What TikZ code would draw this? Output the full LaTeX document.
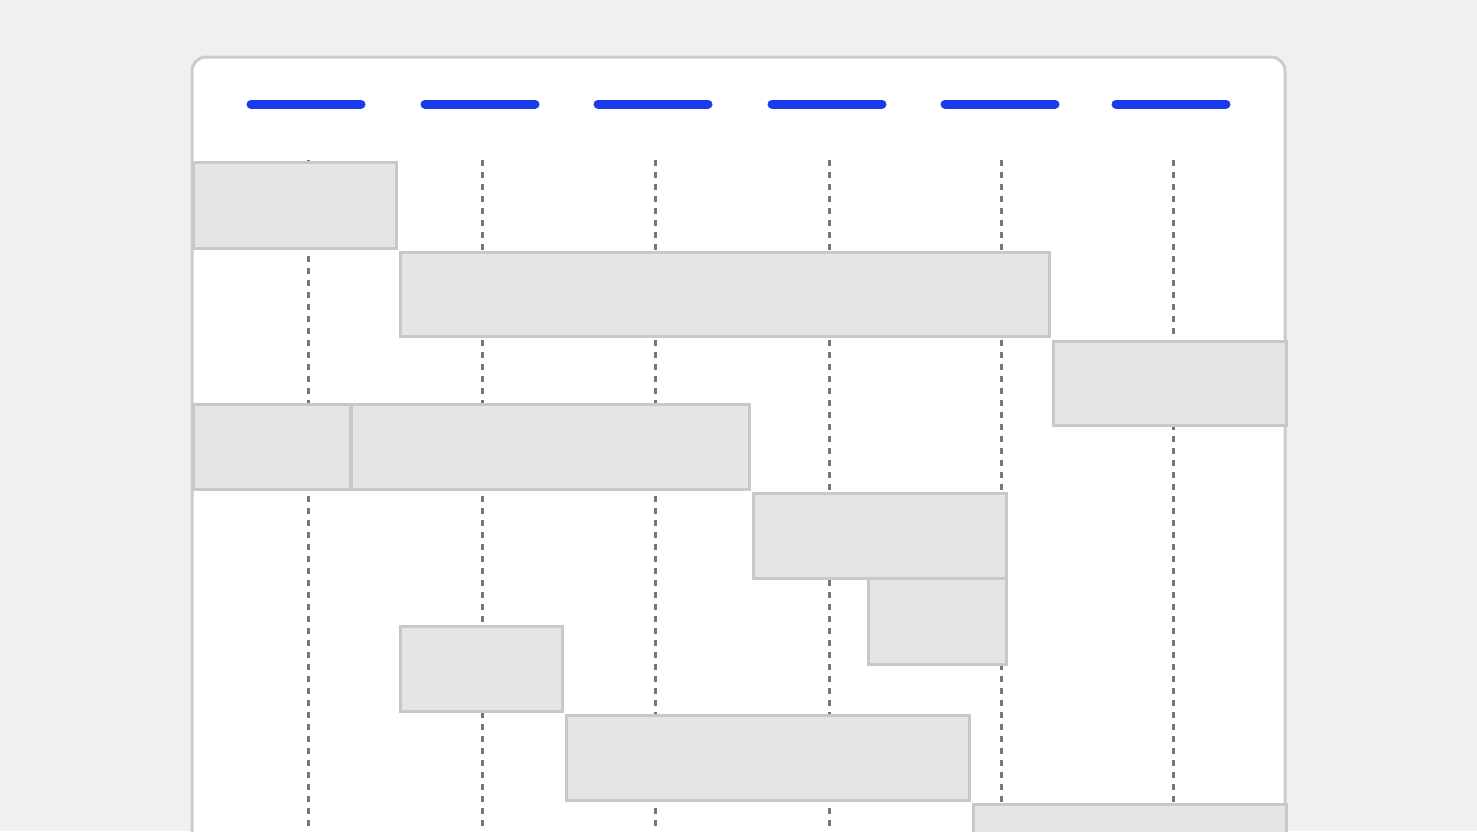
\documentclass[tikz,border=0pt]{standalone}
\usepackage{tikz}
\usetikzlibrary{positioning}
\definecolor{pagebg}{HTML}{F0F0F0}
\definecolor{panelline}{HTML}{CCCCCC}
\definecolor{barfill}{HTML}{E5E5E5}
\definecolor{barline}{HTML}{C8C8C8}
\definecolor{headblue}{HTML}{1A3BEB}
\definecolor{gridgray}{HTML}{777777}

\begin{document}
\begin{tikzpicture}[
    x=1pt, y=-1pt,
    header/.style={line width=9pt, line cap=round, headblue},
    gridline/.style={line width=3pt, gridgray, dash pattern=on 6pt off 6pt},
    bar/.style={rectangle, draw=barline, line width=3pt, fill=barfill, anchor=north west, inner sep=0pt}
]

% Page and panel
\useasboundingbox (0,0) rectangle (1477,831);
\clip (0,0) rectangle (1477,831);
\fill[pagebg] (0,0) rectangle (1477,831);
\draw[panelline, line width=3pt, fill=white, rounded corners=14pt] (192,900) -- (192,57) -- (1285,57) -- (1285,900);

% Column headers
\foreach \xa/\xb in {251/361, 425/535, 598/708, 772/882, 945/1055, 1116/1226}
    \draw[header] (\xa,104) -- (\xb,104);

% Column grid lines
\foreach \xc in {308, 482, 655, 829, 1001, 1173}
    \draw[gridline] (\xc,160) -- (\xc,840);

% Task bars
\node[bar, minimum width=203pt, minimum height=86pt] (taskA) at (192,161) {};
\node[bar, minimum width=649pt, minimum height=84pt] (taskB) at (399,251) {};
\node[bar, minimum width=233pt, minimum height=84pt] (taskC) at (1052,340) {};
\node[bar, minimum width=157pt, minimum height=85pt] (taskD) at (192,403) {};
\node[bar, minimum width=398pt, minimum height=85pt] (taskE) at (350,403) {};
\node[bar, minimum width=253pt, minimum height=85pt] (taskF) at (752,492) {};
\node[bar, minimum width=138pt, minimum height=86pt] (taskG) at (867,577) {};
\node[bar, minimum width=162pt, minimum height=85pt] (taskH) at (399,625) {};
\node[bar, minimum width=403pt, minimum height=85pt] (taskI) at (565,714) {};
\node[bar, minimum width=313pt, minimum height=85pt] (taskJ) at (972,803) {};

\end{tikzpicture}
\end{document}
